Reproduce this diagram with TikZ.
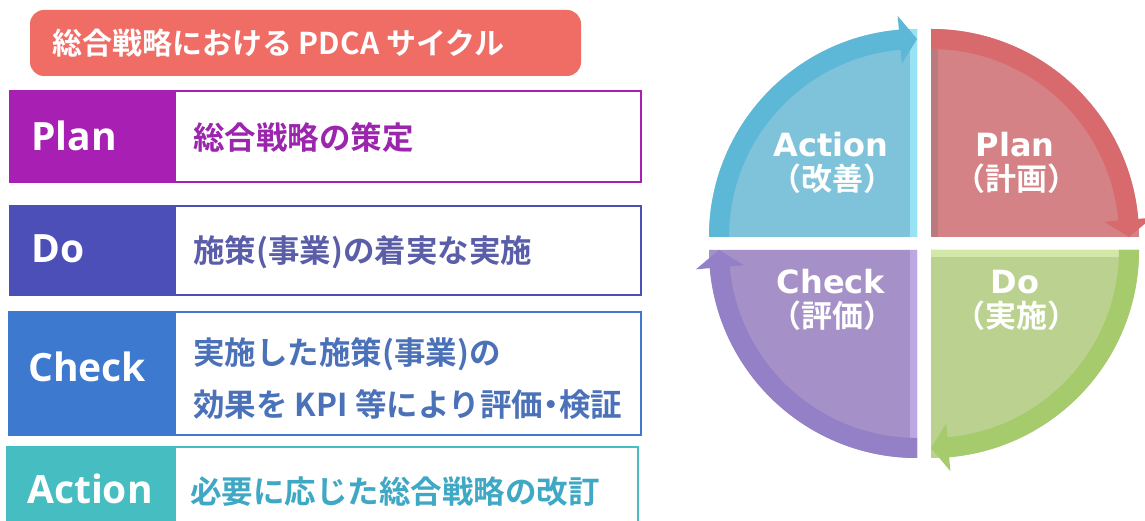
\documentclass[tikz,border=0pt]{standalone}
\usepackage{fontspec}
\newfontfamily\jp{Noto Sans CJK JP Bold}
\newfontfamily\vd{DejaVu Sans Bold}
\newfontfamily\os{Open Sans}
\usetikzlibrary{calc}
\definecolor{titlec}{HTML}{F06D66}
\definecolor{planc}{HTML}{A81FB3}
\definecolor{plant}{HTML}{9C25AE}
\definecolor{doc}{HTML}{4C4FB8}
\definecolor{dot}{HTML}{5A5DA8}
\definecolor{checkc}{HTML}{3C79CF}
\definecolor{checkt}{HTML}{4B72B8}
\definecolor{actc}{HTML}{45BDC1}
\definecolor{actt}{HTML}{3FA8C4}
\definecolor{qAf}{HTML}{7FC3DA}\definecolor{qAb}{HTML}{5DB7D7}\definecolor{qAl}{HTML}{98E2F6}
\definecolor{qPf}{HTML}{D48285}\definecolor{qPb}{HTML}{D86A6E}\definecolor{qPl}{HTML}{BA7B7F}
\definecolor{qDf}{HTML}{BBD190}\definecolor{qDb}{HTML}{A5CB6C}\definecolor{qDl}{HTML}{D3E8A6}
\definecolor{qCf}{HTML}{A590C7}\definecolor{qCb}{HTML}{9480C6}\definecolor{qCl}{HTML}{BCA9E3}
\tikzset{
  lbl/.style={font=\os\bfseries\fontsize{39}{39}\selectfont, text=white, anchor=west, inner sep=0pt},
  desc/.style={font=\jp\fontsize{31.5}{31.5}\selectfont, anchor=west, inner sep=0pt},
  clat/.style={font=\vd\fontsize{32}{32}\selectfont, text=white, anchor=base, inner sep=0pt},
  cjp/.style={font=\jp\fontsize{31}{31}\selectfont, text=white, anchor=base, inner sep=0pt},
  boxline/.style={line width=2.5pt},
}
% quadrant: cx, cy, start angle, fill, band, strip colour, strip angle
\newcommand\pdcaq[7]{%
\begin{scope}[shift={(#1,#2)}]
\pgfmathsetmacro\qaA{#3}\pgfmathsetmacro\qaB{#3-85}\pgfmathsetmacro\qaC{#3-90}
\fill[#4] (0,0) -- (\qaA:208) arc[start angle=\qaA,end angle=\qaC,radius=208] -- cycle;
\begin{scope}
\clip (0,0) -- (\qaA:208) arc[start angle=\qaA,end angle=\qaC,radius=208] -- cycle;
\draw[#6,line width=14pt] (0,0) -- (#7:210);
\end{scope}
\fill[#5] (\qaA:208) arc[start angle=\qaA,end angle=\qaB,radius=208] -- (\qaB:222) -- (\qaC:198) -- (\qaB:174) -- (\qaB:188) arc[start angle=\qaB,end angle=\qaA,radius=188] -- cycle;
\end{scope}}
\begin{document}
\begin{tikzpicture}[x=1pt,y=1pt]
\useasboundingbox (0,0) rectangle (1145,521);
\fill[white] (0,0) rectangle (1145,521);
% title
\fill[titlec,rounded corners=14pt] (30,445) rectangle (581,511);
\node[font=\jp\fontsize{30}{30}\selectfont, text=white, anchor=west, inner sep=0pt] (title) at (52,478) {総合戦略における PDCA サイクル};
% Plan
\draw[planc,boxline,fill=white] (10,339) rectangle (641,430);
\fill[planc] (10,339) rectangle (176,430);
\node[lbl] (planL) at (31,385) {Plan};
\node[desc,text=plant] (planD) at (193,383) {総合戦略の策定};
% Do
\draw[doc,boxline,fill=white] (10,226) rectangle (641,315);
\fill[doc] (10,226) rectangle (176,315);
\node[lbl] (doL) at (31,272) {Do};
\node[desc,text=dot] (doD) at (193,269) {施策(事業)の着実な実施};
% Check
\draw[checkc,boxline,fill=white] (9,86) rectangle (641,209);
\fill[checkc] (9,86) rectangle (176,209);
\node[lbl] (checkL) at (28,154) {Check};
\node[desc,text=checkt] (checkD1) at (193,167) {実施した施策(事業)の};
\node[desc,text=checkt] (checkD2) at (193,117) {効果を KPI 等により評価\kern-.25em・\kern-.25em 検証};
% Action
\draw[actc,boxline,fill=white] (7,-6) rectangle (638,74);
\fill[actc] (7,-6) rectangle (176,74);
\node[lbl] (actL) at (27,32) {Action};
\node[desc,text=actt] (actD) at (190,29) {必要に応じた総合戦略の改訂};
% circle
\pdcaq{917}{284}{180}{qAf}{qAb}{qAl}{90}
\pdcaq{931}{284}{90}{qPf}{qPb}{qPl}{90}
\pdcaq{931}{271}{0}{qDf}{qDb}{qDl}{0}
\pdcaq{917}{271}{-90}{qCf}{qCb}{qCl}{-90}
\node[clat] (cA1) at (831,364) {Action};
\node[cjp] (cA2) at (832,330) {（改善）};
\node[clat] (cP1) at (1015,364) {Plan};
\node[cjp] (cP2) at (1016,330) {（計画）};
\node[clat] (cC1) at (831,227) {Check};
\node[cjp] (cC2) at (832,193) {（評価）};
\node[clat] (cD1) at (1015,227) {Do};
\node[cjp] (cD2) at (1016,193) {（実施）};
\end{tikzpicture}
\end{document}
